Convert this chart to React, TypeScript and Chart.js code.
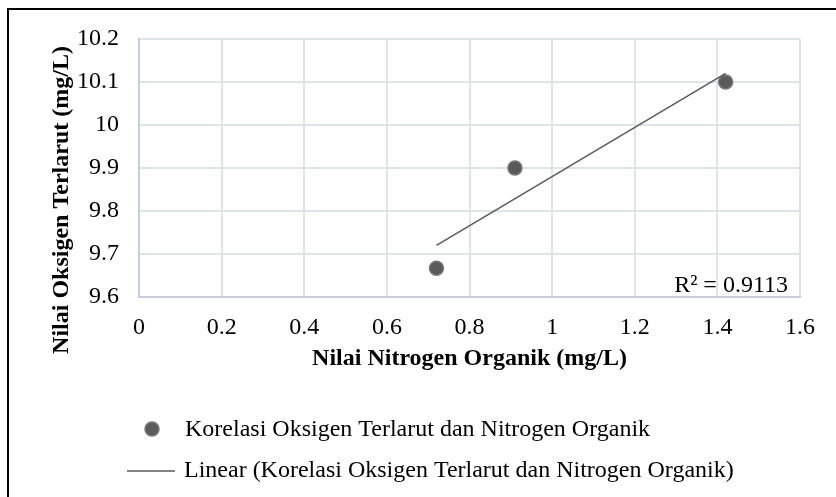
import React, { useEffect, useRef } from "react";
import { Chart, registerables } from "chart.js";

Chart.register(...registerables);

// Data
const nitrogen = [0.72, 0.91, 1.42];
const oxygen = [9.667, 9.9, 10.1];
const trendX = [0.72, 1.42];
const trendY = [9.72, 10.12];
const xTickLabels = ["0", "0.2", "0.4", "0.6", "0.8", "1", "1.2", "1.4", "1.6"];
const yTickLabels = ["9.6", "9.7", "9.8", "9.9", "10", "10.1", "10.2"];
const seriesLabel = "Korelasi Oksigen Terlarut dan Nitrogen Organik";
const trendLabel = "Linear (Korelasi Oksigen Terlarut dan Nitrogen Organik)";
const xTitle = "Nilai Nitrogen Organik (mg/L)";
const yTitle = "Nilai Oksigen Terlarut (mg/L)";
const rSquaredText = "R² = 0.9113";

const FONT = "'Liberation Serif', 'Times New Roman', serif";
const FS = 24;
const POINT_FILL = "#5a5a5a";
const POINT_BORDER = "#787878";
const LINE_COLOR = "#5a5a5a";

const overlayPlugin = {
  id: "overlay",
  afterDraw(chart: any) {
    const { ctx, chartArea } = chart;
    ctx.save();
    // R squared label
    ctx.fillStyle = "#000";
    ctx.font = `${FS}px ${FONT}`;
    ctx.textAlign = "right";
    ctx.textBaseline = "alphabetic";
    ctx.fillText(rSquaredText, chartArea.right - 12, chartArea.bottom - 5);

    // Y axis title
    ctx.save();
    ctx.translate(68, 200);
    ctx.rotate(-Math.PI / 2);
    ctx.font = `bold ${FS}px ${FONT}`;
    ctx.textAlign = "center";
    ctx.textBaseline = "alphabetic";
    ctx.fillText(yTitle, 0, 0);
    ctx.restore();

    // Legend
    const ds0 = chart.data.datasets[0];
    const ds1 = chart.data.datasets[1];
    ctx.beginPath();
    ctx.arc(152, 429, 7, 0, Math.PI * 2);
    ctx.fillStyle = POINT_FILL;
    ctx.fill();
    ctx.lineWidth = 1.5;
    ctx.strokeStyle = POINT_BORDER;
    ctx.stroke();
    ctx.fillStyle = "#000";
    ctx.font = `${FS}px ${FONT}`;
    ctx.textAlign = "left";
    ctx.fillText(ds0.label, 185, 436);

    ctx.beginPath();
    ctx.moveTo(127, 471);
    ctx.lineTo(175, 471);
    ctx.lineWidth = 1.5;
    ctx.strokeStyle = LINE_COLOR;
    ctx.stroke();
    ctx.fillText(ds1.label, 184, 477);
    ctx.restore();
  },
};

export default function App() {
  const canvasRef = useRef<HTMLCanvasElement | null>(null);

  useEffect(() => {
    const canvas = canvasRef.current;
    if (!canvas) return;
    const chart = new Chart(canvas, {
      type: "scatter",
      data: {
        datasets: [
          {
            label: seriesLabel,
            data: nitrogen.map((x, i) => ({ x, y: oxygen[i] })),
            backgroundColor: POINT_FILL,
            borderColor: POINT_BORDER,
            borderWidth: 1.5,
            pointRadius: 7,
            order: 1,
          },
          {
            label: trendLabel,
            type: "line",
            data: trendX.map((x, i) => ({ x, y: trendY[i] })),
            borderColor: LINE_COLOR,
            borderWidth: 1.5,
            pointRadius: 0,
            showLine: true,
            fill: false,
            tension: 0,
            order: 0,
          } as any,
        ],
      },
      options: {
        responsive: false,
        animation: false,
        devicePixelRatio: 1,
        layout: { padding: { left: 0, top: 39, right: 36, bottom: 124 } },
        plugins: {
          legend: { display: false },
          tooltip: { enabled: false },
        },
        scales: {
          x: {
            type: "linear",
            min: 0,
            max: 1.6,
            afterFit: (s: any) => {
              s.height = 76;
            },
            ticks: {
              stepSize: 0.2,
              padding: 16,
              color: "#000",
              font: { family: FONT, size: FS },
              callback: (_v: any, i: number) => xTickLabels[i],
            },
            grid: { color: "#dfe3ea", lineWidth: 2, drawTicks: false },
            border: { color: "#c8cedb", width: 2 },
            title: {
              display: true,
              text: xTitle,
              color: "#000",
              font: { family: FONT, size: FS, weight: "bold" },
              padding: { top: 0, bottom: 0 },
            },
          },
          y: {
            type: "linear",
            min: 9.6,
            max: 10.2,
            afterFit: (s: any) => {
              s.width = 139;
            },
            ticks: {
              stepSize: 0.1,
              padding: 20,
              color: "#000",
              font: { family: FONT, size: FS },
              callback: (_v: any, i: number) => yTickLabels[i],
            },
            grid: { color: "#dfe3ea", lineWidth: 2, drawTicks: false },
            border: { color: "#c8cedb", width: 2 },
            title: { display: false },
          },
        },
      },
      plugins: [overlayPlugin],
    } as any);
    return () => chart.destroy();
  }, []);

  return (
    <div
      style={{
        position: "fixed",
        left: 0,
        top: 0,
        width: 836,
        height: 497,
        overflow: "hidden",
        background: "#fff",
      }}
    >
      <div
        style={{
          position: "absolute",
          left: 7,
          top: 8,
          width: 900,
          height: 600,
          border: "2px solid #000",
        }}
      />
      <canvas
        ref={canvasRef}
        width={836}
        height={497}
        style={{ position: "absolute", left: 0, top: 0, width: 836, height: 497 }}
      />
    </div>
  );
}
